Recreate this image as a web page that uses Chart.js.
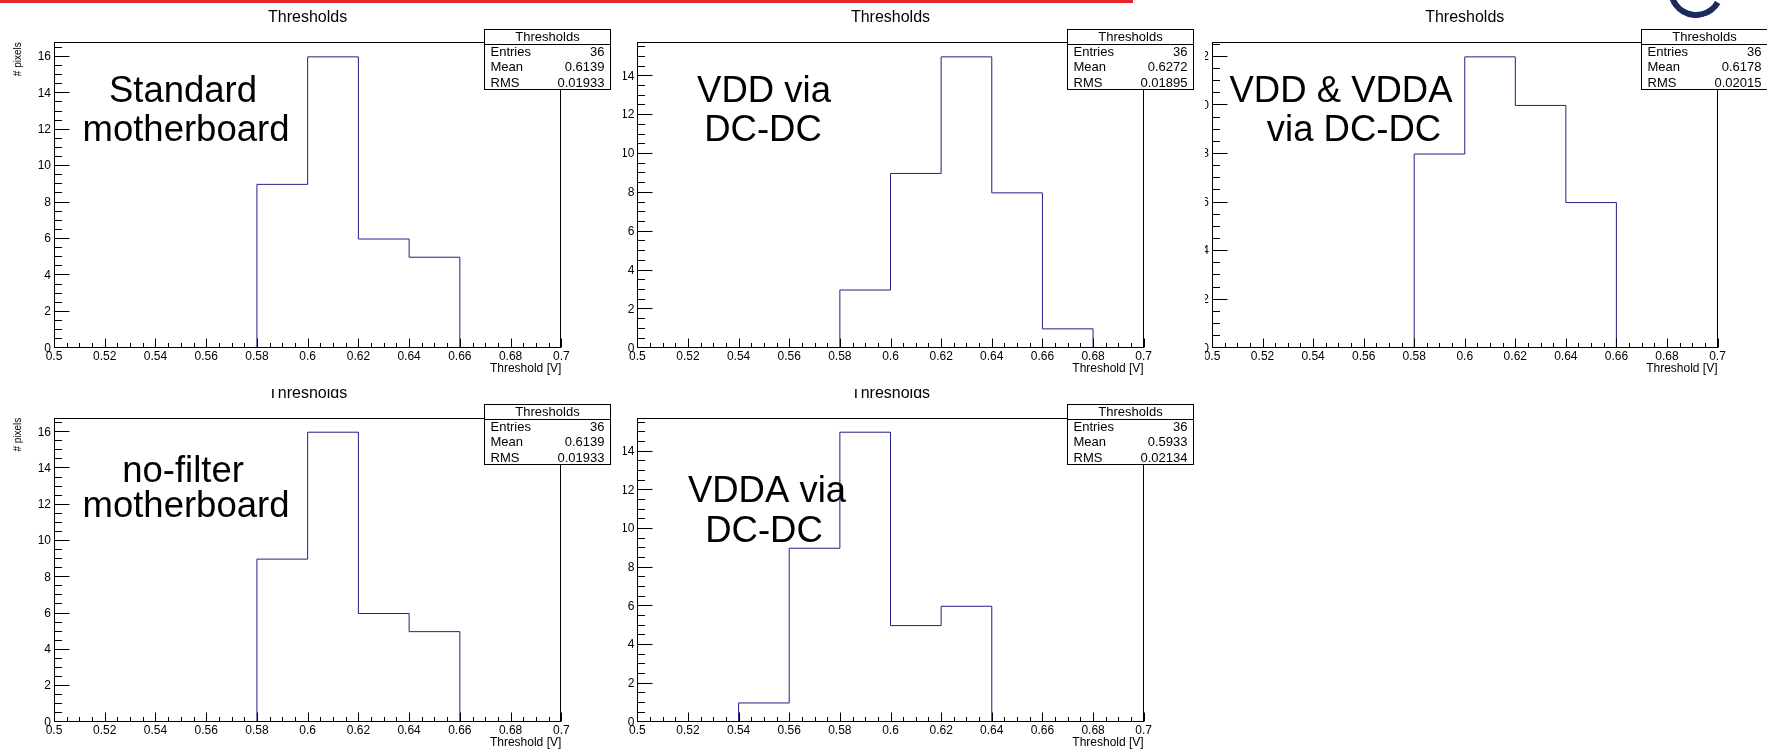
<!DOCTYPE html>
<html>
<head>
<meta charset="utf-8">
<script src="https://cdn.jsdelivr.net/npm/chart.js@4.4.1/dist/chart.umd.min.js"></script>
<style>
  body { margin: 0; background: #fff; width: 1767px; height: 751px; overflow: hidden; position: relative; }
  .pad { position: absolute; overflow: hidden; }
  canvas { position: absolute; }
  #redline { position: absolute; left: 0; top: 0; width: 1133px; height: 3px; background: #e8262b; }
  #logo { position: absolute; left: 1668px; top: -38px; width: 44px; height: 44px; border-radius: 50%;
          border: 6px solid transparent; border-left-color: #1d2a5c; border-bottom-color: #1d2a5c; transform: rotate(-15deg); }
</style>
</head>
<body>
<div id="redline"></div>
<div id="logo"></div>
<div class="pad" id="p1"><canvas id="c1"></canvas></div>
<div class="pad" id="p2"><canvas id="c2"></canvas></div>
<div class="pad" id="p3"><canvas id="c3"></canvas></div>
<div class="pad" id="p4"><canvas id="c4"></canvas></div>
<div class="pad" id="p5"><canvas id="c5"></canvas></div>
<script>
// bins: lower edges, 0.02 wide
const binLow = [0.50, 0.52, 0.54, 0.56, 0.58, 0.60, 0.62, 0.64, 0.66, 0.68];
const binWidth = 0.02;
const xTickValues = [0.5, 0.52, 0.54, 0.56, 0.58, 0.6, 0.62, 0.64, 0.66, 0.68, 0.7];
const xTickLabels = ['0.5', '0.52', '0.54', '0.56', '0.58', '0.6', '0.62', '0.64', '0.66', '0.68', '0.7'];

// pixels per bin
const standardCounts = [0, 0, 0, 0, 9, 16, 6, 5, 0, 0];
const vddCounts      = [0, 0, 0, 0, 3, 9, 15, 8, 1, 0];
const vddVddaCounts  = [0, 0, 0, 0, 8, 12, 10, 6, 0, 0];
const noFilterCounts = [0, 0, 0, 0, 9, 16, 6, 5, 0, 0];
const vddaCounts     = [0, 0, 1, 9, 15, 5, 6, 0, 0, 0];

const panelText = [
  ['Standard', 'motherboard'],
  ['VDD via', 'DC-DC'],
  ['VDD & VDDA', 'via DC-DC'],
  ['no-filter', 'motherboard'],
  ['VDDA via', 'DC-DC']
];
const statEntries = ['36', '36', '36', '36', '36'];
const statMean = ['0.6139', '0.6272', '0.6178', '0.6139', '0.5933'];
const statRms = ['0.01933', '0.01895', '0.02015', '0.01933', '0.02134'];

const histTitle = 'Thresholds';
const xTitle = 'Threshold [V]';
const yTitle = '# pixels';

Chart.defaults.font.family = "'Liberation Sans', Arial, sans-serif";
Chart.defaults.color = '#000';

// clip: visible pad box [left, top, width, height]; canvas: [left, top, width, height];
// frame: [left, top, right, bottom] -- all in page px
const panels = [
  { id: 'c1', pad: 'p1', counts: standardCounts, clip: [0, 0, 623, 389], canvas: [0, 0, 623, 389],
    frame: [54, 42.3, 561.3, 348.3], yTitle: true, textPos: [[183, 102], [186, 141]] },
  { id: 'c2', pad: 'p2', counts: vddCounts, clip: [623, 0, 582, 389], canvas: [583, 0, 622, 389],
    frame: [637.3, 42.3, 1143.7, 348.3], yTitle: false, textPos: [[764, 102], [763, 141]] },
  { id: 'c3', pad: 'p3', counts: vddVddaCounts, clip: [1205, 0, 562, 389], canvas: [1158, 0, 609, 389],
    frame: [1212, 42.3, 1717.5, 348.3], yTitle: false, textPos: [[1341, 102], [1354, 141]] },
  { id: 'c4', pad: 'p4', counts: noFilterCounts, clip: [0, 389, 623, 362], canvas: [0, 388, 623, 363],
    frame: [54, 417.7, 561.3, 722.3], yTitle: true, textPos: [[183, 482], [186, 517]] },
  { id: 'c5', pad: 'p5', counts: vddaCounts, clip: [623, 389, 582, 362], canvas: [583, 388, 622, 363],
    frame: [637.3, 417.7, 1143.7, 722.3], yTitle: false, textPos: [[767, 502], [764, 542]] }
];

function histPoints(counts) {
  const first = counts.findIndex(c => c > 0);
  let last = counts.length - 1;
  while (counts[last] === 0) last--;
  const pts = [{ x: binLow[first], y: 0 }];
  for (let i = first; i <= last; i++) pts.push({ x: binLow[i] + binWidth, y: counts[i] });
  pts.push({ x: binLow[last] + binWidth, y: 0 });
  return pts;
}

function rootPlugin(p, i) {
  return {
    id: 'root' + i,
    afterDraw(chart) {
      const ctx = chart.ctx, a = chart.chartArea;
      const xs = chart.scales.x, ys = chart.scales.y;
      ctx.save();
      ctx.strokeStyle = '#000';
      ctx.lineWidth = 1;
      const L = Math.round(a.left) + 0.5, R = Math.round(a.right) - 0.5;
      const T = Math.round(a.top) + 0.5, B = Math.round(a.bottom) - 0.5;
      ctx.strokeRect(L, T, R - L, B - T);

      // inward ticks, ROOT style
      ctx.beginPath();
      for (let k = 0; k <= 40; k++) {
        const x = Math.round(xs.getPixelForValue(0.5 + k * 0.005)) + 0.5;
        const len = k % 4 === 0 ? 9 : 4.5;
        ctx.moveTo(x, B);
        ctx.lineTo(x, B - len);
      }
      for (let k = 0; k * 0.5 <= ys.max; k++) {
        const y = Math.round(ys.getPixelForValue(k * 0.5)) - 0.5;
        const len = k % 4 === 0 ? 15 : 7.5;
        ctx.moveTo(L, y);
        ctx.lineTo(L + len, y);
      }
      ctx.stroke();

      ctx.fillStyle = '#000';
      ctx.textAlign = 'center';
      ctx.textBaseline = 'alphabetic';
      ctx.font = "16px 'Liberation Sans'";
      ctx.fillText(histTitle, (a.left + a.right) / 2, a.top - 20);

      ctx.font = "36.5px 'Liberation Sans'";
      p.textPos.forEach(([x, y], j) => ctx.fillText(panelText[i][j], x - p.canvas[0], y - p.canvas[1]));

      // stats box
      const bx = Math.round(a.right - 77) + 0.5, by = Math.round(a.top - 13.6) + 0.5;
      const bw = 126, bh = 60;
      ctx.fillStyle = '#fff';
      ctx.fillRect(bx, by, bw, bh);
      ctx.strokeRect(bx, by, bw, bh);
      ctx.beginPath();
      ctx.moveTo(bx, by + 15);
      ctx.lineTo(bx + bw, by + 15);
      ctx.stroke();
      ctx.fillStyle = '#000';
      ctx.font = "13px 'Liberation Sans'";
      ctx.textBaseline = 'middle';
      ctx.textAlign = 'center';
      ctx.fillText(histTitle, bx + bw / 2, by + 7.5);
      const rows = [['Entries', statEntries[i]], ['Mean', statMean[i]], ['RMS', statRms[i]]];
      rows.forEach(([k, v], j) => {
        const y = by + 23 + j * 15.3;
        ctx.textAlign = 'left';
        ctx.fillText(k, bx + 6, y);
        ctx.textAlign = 'right';
        ctx.fillText(v, bx + bw - 6, y);
      });
      ctx.restore();
    }
  };
}

panels.forEach((p, i) => {
  const pad = document.getElementById(p.pad);
  const [pl, pt, pw, ph] = p.clip;
  pad.style.left = pl + 'px';
  pad.style.top = pt + 'px';
  pad.style.width = pw + 'px';
  pad.style.height = ph + 'px';

  const cv = document.getElementById(p.id);
  const [cl, ct, cw, ch] = p.canvas;
  const [fl, ft, fr, fb] = p.frame;
  cv.width = cw;
  cv.height = ch;
  cv.style.left = (cl - pl) + 'px';
  cv.style.top = (ct - pt) + 'px';
  const xHeight = 28;

  new Chart(cv.getContext('2d'), {
    type: 'line',
    data: {
      datasets: [{
        data: histPoints(p.counts),
        stepped: 'after',
        borderColor: '#202085',
        borderWidth: 1,
        pointRadius: 0,
        fill: false
      }]
    },
    options: {
      responsive: false,
      animation: false,
      layout: {
        padding: { left: 0, top: ft - ct, right: cl + cw - fr, bottom: ct + ch - fb - xHeight }
      },
      plugins: { legend: { display: false }, tooltip: { enabled: false } },
      scales: {
        x: {
          type: 'linear',
          min: 0.5,
          max: 0.7,
          afterBuildTicks: s => { s.ticks = xTickValues.map(v => ({ value: v })); },
          afterFit: s => { s.height = xHeight; },
          ticks: {
            autoSkip: false, maxRotation: 0, minRotation: 0, padding: 1,
            font: { size: 12 },
            callback: (v, idx) => xTickLabels[idx]
          },
          grid: { display: false, drawTicks: false },
          border: { display: false },
          title: { display: true, text: xTitle, align: 'end', font: { size: 12 }, padding: { top: 0, bottom: 0 } }
        },
        y: {
          min: 0,
          max: Math.max(...p.counts) * 1.05,
          afterBuildTicks: s => { s.ticks = s.ticks.filter(t => Number.isInteger(t.value) && t.value % 2 === 0); },
          afterFit: s => { s.width = fl - cl; },
          ticks: { stepSize: 2, padding: 3, font: { size: 12 } },
          grid: { display: false, drawTicks: false },
          border: { display: false },
          title: { display: p.yTitle, text: yTitle, align: 'end', font: { size: 10 }, padding: { top: 12.5, bottom: 0 } }
        }
      }
    },
    plugins: [rootPlugin(p, i)]
  });
});
</script>
</body>
</html>
